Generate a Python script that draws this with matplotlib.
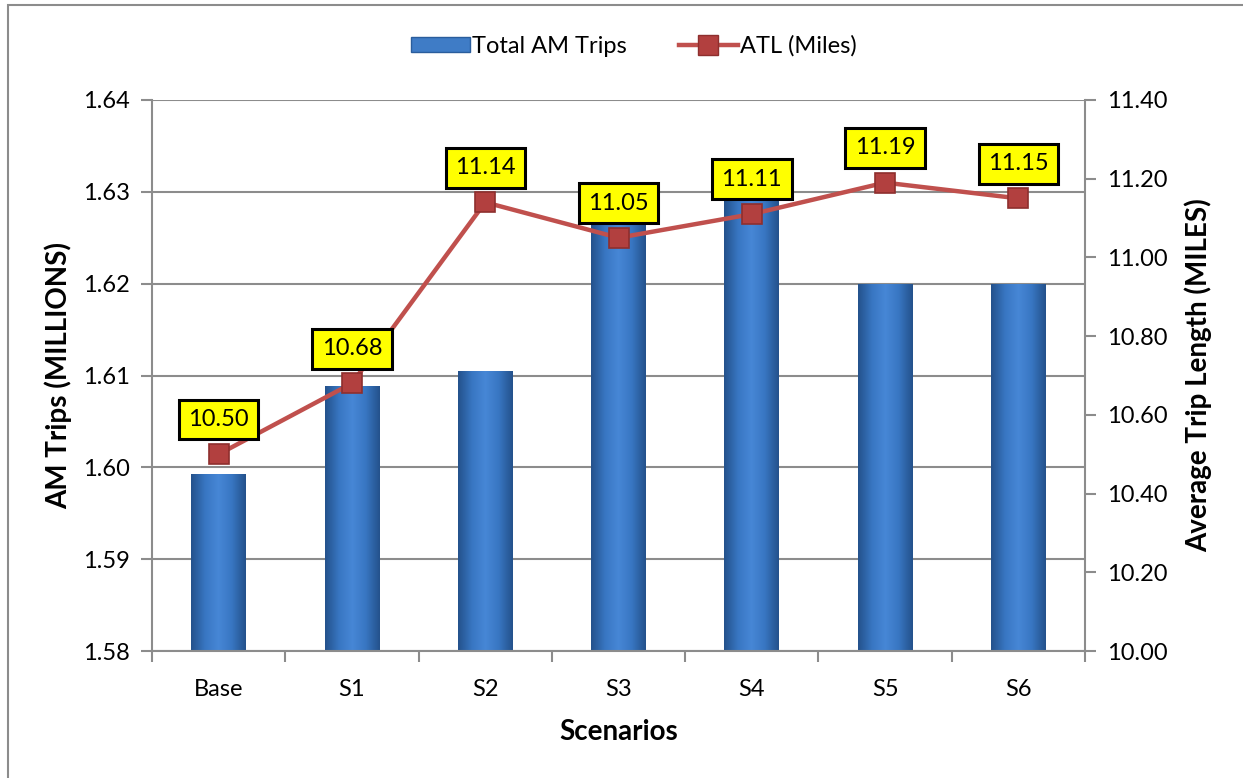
import matplotlib
matplotlib.use("Agg")
import matplotlib.pyplot as plt
import numpy as np
from matplotlib.patches import Rectangle
from matplotlib.lines import Line2D
from matplotlib.colors import LinearSegmentedColormap

plt.rcParams['font.family'] = ['Lato', 'DejaVu Sans']

# Szenarien und Werte
scenarios = ['Base', 'S1', 'S2', 'S3', 'S4', 'S5', 'S6']
am_trips = [1.5993, 1.6089, 1.6105, 1.6292, 1.6296, 1.6200, 1.6200]  # Mio.
atl_miles = [10.50, 10.68, 11.14, 11.05, 11.11, 11.19, 11.15]

left_ticks = [1.58, 1.59, 1.60, 1.61, 1.62, 1.63, 1.64]
right_ticks = [10.00, 10.20, 10.40, 10.60, 10.80, 11.00, 11.20, 11.40]

fig = plt.figure(figsize=(12.43, 7.78), dpi=100)
ax = fig.add_axes([0.1223, 0.1632, 0.7506, 0.7083])

# Rahmen um das Diagramm (nur links/oben sichtbar)
fig.patches.append(Rectangle((8 / 1243, -0.05), 1.2, 1 - 5 / 778 + 0.05,
                             transform=fig.transFigure, fill=False,
                             edgecolor='#8c8c8c', linewidth=1.5))

x = np.arange(len(scenarios))
bars = ax.bar(x, [v - 1.58 for v in am_trips], bottom=1.58, width=0.41,
              color='#3f7cc6', zorder=2)

# Farbverlauf auf den Balken
cmap = LinearSegmentedColormap.from_list(
    'bar', ['#24528c', '#3876c2', '#4787d6', '#3876c2', '#24528c'])
grad = np.linspace(0, 1, 64).reshape(1, -1)
for b in bars:
    im = ax.imshow(grad, cmap=cmap, aspect='auto', zorder=2.1,
                   extent=[b.get_x(), b.get_x() + b.get_width(),
                           b.get_y(), b.get_y() + b.get_height()])
    im.set_clip_path(b)

ax.set_xlim(-0.5, 6.5)
ax.set_ylim(1.58, 1.64)
ax.set_yticks(left_ticks)
ax.set_yticklabels([f'{t:.2f}' for t in left_ticks])
ax.set_xticks(x)
ax.set_xticklabels(scenarios)
ax.set_xticks(np.arange(-0.5, 7, 1), minor=True)
ax.tick_params(axis='x', which='major', length=0, pad=20, labelsize=17)
ax.tick_params(axis='x', which='minor', length=8, color='#8c8c8c', width=1.5)
ax.tick_params(axis='y', length=8, color='#8c8c8c', width=1.5, pad=8, labelsize=17)
ax.grid(axis='y', color='#8c8c8c', linewidth=1.5, zorder=0)
ax.set_axisbelow(True)
for s in ['top', 'right']:
    ax.spines[s].set_visible(False)
for s in ['left', 'bottom']:
    ax.spines[s].set_color('#8c8c8c')
    ax.spines[s].set_linewidth(1.5)

ax.set_xlabel('Scenarios', fontsize=20, fontweight='bold', labelpad=14)
ax.set_ylabel('AM Trips (MILLIONS)', fontsize=20, fontweight='bold', labelpad=8)

# Zweite Achse fuer die mittlere Fahrtlaenge
ax2 = ax.twinx()
ax2.set_ylim(10.0, 11.4)
ax2.set_yticks(right_ticks)
ax2.set_yticklabels([f'{t:.2f}' for t in right_ticks])
ax2.tick_params(axis='y', length=8, color='#8c8c8c', width=1.5, pad=8, labelsize=17)
for s in ['top', 'left', 'bottom']:
    ax2.spines[s].set_visible(False)
ax2.spines['right'].set_color('#8c8c8c')
ax2.spines['right'].set_linewidth(1.5)
ax2.set_ylabel('Average Trip Length (MILES)', fontsize=20, fontweight='bold', labelpad=12)

ax2.plot(x, atl_miles, color='#c0504d', linewidth=3.2, marker='s', markersize=15,
         markerfacecolor='#b2403f', markeredgecolor='#8e2f2e', markeredgewidth=1.2,
         zorder=3)

for xi, v in zip(x, atl_miles):
    ax2.annotate(f'{v:.2f}', (xi, v), xytext=(0, 25), textcoords='offset points',
                 ha='center', va='center', fontsize=17, zorder=5,
                 bbox=dict(boxstyle='square,pad=0.4', facecolor='#ffff00',
                           edgecolor='black', linewidth=2.2))

# Legende oben
handles = [Rectangle((0, 0), 1, 1, facecolor='#3f7cc6', edgecolor='#2a5d9c'),
           Line2D([0], [0], color='#c0504d', linewidth=3.2, marker='s', markersize=15,
                  markerfacecolor='#b2403f', markeredgecolor='#8e2f2e')]
fig.legend(handles, ['Total AM Trips', 'ATL (Miles)'], loc='center',
           bbox_to_anchor=(0.51, 0.941), ncol=2, frameon=False, fontsize=17,
           handlelength=2.5, handleheight=0.6, handletextpad=0.1, columnspacing=2.2)

fig.savefig('out.png', dpi=100)
